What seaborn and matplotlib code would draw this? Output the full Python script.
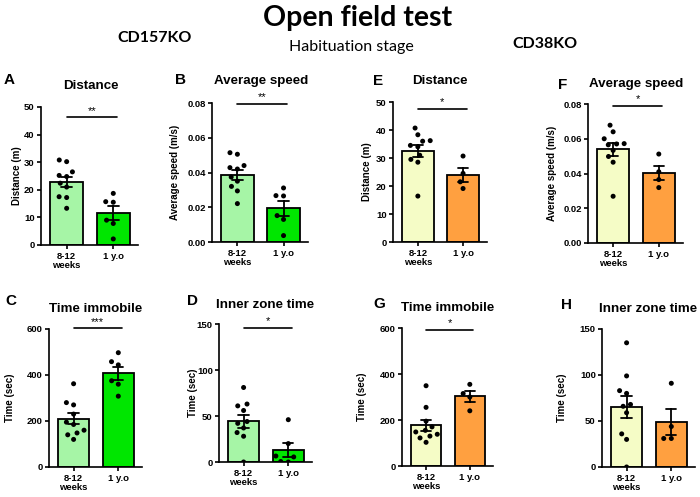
import numpy as np
import pandas as pd
import matplotlib
matplotlib.use("Agg")
import matplotlib.pyplot as plt
from matplotlib.ticker import FormatStrFormatter
import seaborn as sns

# ---------------- data ----------------
groups = ["8-12\nweeks", "1 y.o"]

# CD157KO
dist157_young = [30.8, 30.2, 26.5, 25.2, 24.8, 22.4, 21.0, 17.5, 17.2, 13.3]
dist157_old = [18.7, 15.7, 15.5, 9.0, 7.8, 2.2]
speed157_young = [0.0514, 0.0505, 0.0440, 0.0428, 0.0420, 0.0374, 0.0350, 0.0320, 0.0294, 0.0221]
speed157_old = [0.0311, 0.0267, 0.0265, 0.0152, 0.0130, 0.0037]
immob157_young = [362, 280, 270, 230, 195, 185, 160, 148, 140, 120]
immob157_old = [497, 458, 444, 375, 360, 308]
inner157_young = [81, 63, 61, 56, 44, 42, 37, 32, 28, 0]
inner157_old = [46, 20, 6.5, 5.5, 0.5, 0]

# CD38KO
dist38_young = [40.7, 38.3, 36.2, 36.0, 34.5, 34.0, 31.0, 29.5, 28.5, 16.4]
dist38_old = [30.7, 24.5, 21.5, 19.1]
speed38_young = [0.0678, 0.0640, 0.0600, 0.0572, 0.0570, 0.0565, 0.0533, 0.0498, 0.0465, 0.0269]
speed38_old = [0.0512, 0.0410, 0.0365, 0.0319]
immob38_young = [349, 255, 195, 170, 155, 148, 138, 130, 122, 103]
immob38_old = [355, 315, 300, 240]
inner38_young = [135, 99, 83, 80, 68, 66, 59, 36, 30, 0]
inner38_old = [91, 44, 31, 31]

panel_letters = ["A", "B", "C", "D", "E", "F", "G", "H"]
panel_titles = ["Distance", "Average speed", "Time immobile", "Inner zone time",
                "Distance", "Average speed", "Time immobile", "Inner zone time"]
y_labels = ["Distance (m)", "Average speed (m/s)", "Time (sec)", "Time (sec)",
            "Distance (m)", "Average speed (m/s)", "Time (sec)", "Time (sec)"]
y_max = [50, 0.08, 600, 150, 50, 0.08, 600, 150]
y_step = [10, 0.02, 200, 50, 10, 0.02, 200, 50]
sig_labels = ["**", "**", "***", "*", "*", "*", "*", None]
sig_heights = [46.2, 0.0796, 604, 146, 47.6, 0.079, 593, None]

colors_157 = ["#a6f5a6", "#00e600"]
colors_38 = ["#f5fcc6", "#ffa040"]

series = [
    (dist157_young, dist157_old), (speed157_young, speed157_old),
    (immob157_young, immob157_old), (inner157_young, inner157_old),
    (dist38_young, dist38_old), (speed38_young, speed38_old),
    (immob38_young, immob38_old), (inner38_young, inner38_old),
]

# ---------------- style ----------------
sns.set_style("ticks")
plt.rcParams["font.family"] = ["Liberation Sans", "DejaVu Sans"]
plt.rcParams["font.weight"] = "bold"
plt.rcParams["axes.labelweight"] = "bold"
plt.rcParams["text.color"] = "black"
plt.rcParams["axes.labelcolor"] = "black"
plt.rcParams["xtick.color"] = "black"
plt.rcParams["ytick.color"] = "black"

W, H = 700, 497
fig = plt.figure(figsize=(W / 100, H / 100), dpi=100)

# axes boxes in pixels: left, right, top, bottom
boxes = [
    (41, 138, 107, 245), (212, 308, 103, 242), (49, 142, 329, 467), (219, 312, 324, 462),
    (393, 487, 102, 242), (588, 683, 104, 243), (402, 493, 328, 466), (602, 695, 329, 467),
]
label_x = [-0.196, -0.333, -0.366, -0.226, -0.223, -0.326, -0.385, -0.376]
letter_pos = [(9, 80), (181, 80), (11, 301), (192, 301), (378, 81), (563, 85), (379, 304), (566, 305)]
title_pos = [(91, 86), (261, 81), (96, 309), (265, 305), (440, 81), (636, 84), (448, 308), (648, 309)]

for i in range(8):
    l, r, t, b = boxes[i]
    ax = fig.add_axes([l / W, 1 - b / H, (r - l) / W, (b - t) / H])
    young, old = series[i]
    df = pd.DataFrame({
        "group": [groups[0]] * len(young) + [groups[1]] * len(old),
        "value": list(young) + list(old),
    })
    pal = colors_157 if i < 4 else colors_38
    sns.barplot(data=df, x="group", y="value", hue="group", order=groups, hue_order=groups,
                palette=pal, saturation=1, legend=False, errorbar="se", capsize=0.23,
                width=0.7, edgecolor="black", linewidth=1.3,
                err_kws={"color": "black", "linewidth": 1.3}, ax=ax)
    sns.swarmplot(data=df, x="group", y="value", order=groups, color="black",
                  size=3.6, linewidth=1.6, edgecolor="none", ax=ax, zorder=5)
    ax.set_xlim(-0.55, 1.53)
    ax.set_ylim(0, y_max[i])
    ax.set_yticks(np.arange(0, y_max[i] + y_step[i] / 2, y_step[i]))
    if y_max[i] < 1:
        ax.yaxis.set_major_formatter(FormatStrFormatter("%.2f"))
    ax.set_xlabel("")
    ax.set_ylabel(y_labels[i], fontsize=7, fontweight="bold")
    ax.yaxis.set_label_coords(label_x[i], 0.5)
    sns.despine(ax=ax)
    for s in ["left", "bottom"]:
        ax.spines[s].set_linewidth(1.2)
        ax.spines[s].set_color("black")
    ax.tick_params(axis="both", direction="out", length=3, width=1.2, labelsize=6.8,
                   colors="black", pad=1.5)
    ax.tick_params(axis="x", length=3, pad=2)
    for lab in ax.get_xticklabels() + ax.get_yticklabels():
        lab.set_fontweight("bold")
    for lab in ax.get_xticklabels():
        lab.set_linespacing(1.05)
    if sig_labels[i] is not None:
        ax.plot([0, 1.08], [sig_heights[i]] * 2, color="black", lw=1.2, clip_on=False)
        ax.annotate(sig_labels[i], xy=(0.54, sig_heights[i]), xytext=(0, 1),
                    textcoords="offset points", ha="center", va="bottom",
                    fontsize=8, fontweight="normal", annotation_clip=False)
    lx, ly = letter_pos[i]
    fig.text(lx / W, 1 - ly / H, panel_letters[i], fontsize=11, fontweight="bold",
             ha="center", va="center")
    tx, ty = title_pos[i]
    fig.text(tx / W, 1 - ty / H, panel_titles[i], fontsize=9.6, fontweight="bold",
             ha="center", va="center")

fig.text(358 / W, 1 - 18 / H, "Open field test", fontsize=20.5, fontweight="bold",
         family=["Lato", "DejaVu Sans"], ha="center", va="center")
fig.text(155 / W, 1 - 38 / H, "CD157KO", fontsize=11.5, fontweight="bold",
         family=["Lato", "DejaVu Sans"], ha="center", va="center")
fig.text(545 / W, 1 - 44 / H, "CD38KO", fontsize=11.5, fontweight="bold",
         family=["Lato", "DejaVu Sans"], ha="center", va="center")
fig.text(351 / W, 1 - 47 / H, "Habituation stage", fontsize=11.5, fontweight="normal",
         family=["Lato", "DejaVu Sans"], ha="center", va="center")

fig.savefig("out.png", dpi=100)
